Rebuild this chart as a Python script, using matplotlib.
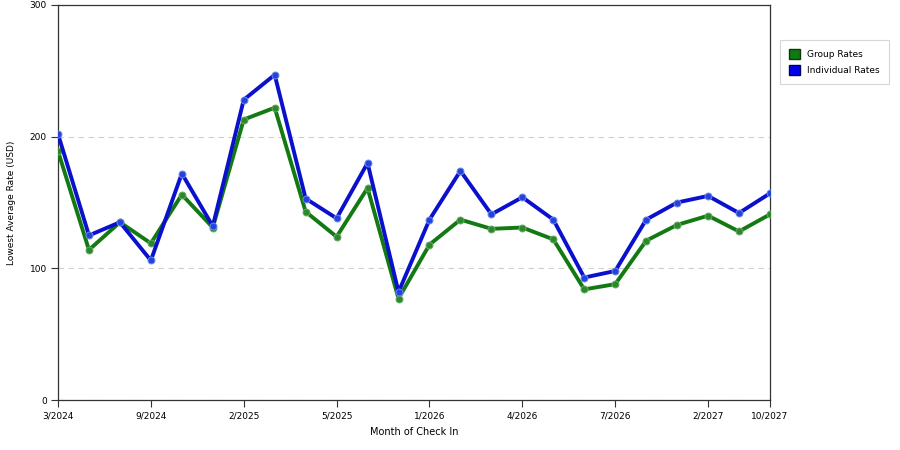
import matplotlib.pyplot as plt
from matplotlib.patches import Patch

months = ['3/2024', '', '', '9/2024', '', '', '2/2025', '', '', '5/2025', '', '',
          '1/2026', '', '', '4/2026', '', '', '7/2026', '', '', '2/2027', '', '10/2027']
group_rates = [189, 114, 135, 119, 156, 131, 213, 222, 143, 124, 161, 77,
               118, 137, 130, 131, 122, 84, 88, 121, 133, 140, 128, 141]
individual_rates = [202, 125, 135, 106, 172, 132, 228, 247, 153, 138, 180, 82,
                    137, 174, 141, 154, 137, 93, 98, 137, 150, 155, 142, 157]

green = '#137a13'
blue = '#0a10cc'

fig = plt.figure(figsize=(9, 4.5), dpi=100)
ax = fig.add_axes([58/900, 50/450, 712/900, 395/450])

x = list(range(len(months)))
ax.plot(x, group_rates, color=green, lw=2.8, marker='o', ms=5,
        mfc='#2a8a2a', mec='#6aaa6a', mew=0.7, zorder=3)
ax.plot(x, individual_rates, color=blue, lw=2.8, marker='o', ms=5,
        mfc='#2244dd', mec='#7088e8', mew=0.7, zorder=4)

ax.set_xlim(0, len(months) - 1)
ax.set_ylim(0, 300)
ticks = [i for i, m in enumerate(months) if m]
ax.set_xticks(ticks)
ax.set_xticklabels([months[i] for i in ticks])
ax.set_yticks([0, 100, 200, 300])
ax.tick_params(labelsize=6.5, length=5, width=0.8, color='#333333', pad=3)
for s in ax.spines.values():
    s.set_color('#333333')
    s.set_linewidth(0.9)
ax.grid(axis='y', ls=(0, (5, 4)), color='#d0d0d0', lw=0.8)
ax.set_axisbelow(True)

ax.set_xlabel('Month of Check In', fontsize=7, labelpad=5)
ax.set_ylabel('Lowest Average Rate (USD)', fontsize=6.5, labelpad=10)

handles = [Patch(facecolor='#0f7a0f', edgecolor='#0a3a0a', label='Group Rates'),
           Patch(facecolor='#0000ee', edgecolor='#00005a', label='Individual Rates')]
leg = fig.legend(handles=handles, loc='upper left', bbox_to_anchor=(780/900, 1 - 40/450),
                 borderaxespad=0, fontsize=6.5, frameon=True, fancybox=False,
                 handlelength=1.2, handleheight=1.3, borderpad=1.0, labelspacing=0.7,
                 handletextpad=0.8)
leg.get_frame().set_edgecolor('#cccccc')
leg.get_frame().set_linewidth(0.8)

fig.savefig('out.png', dpi=100)
